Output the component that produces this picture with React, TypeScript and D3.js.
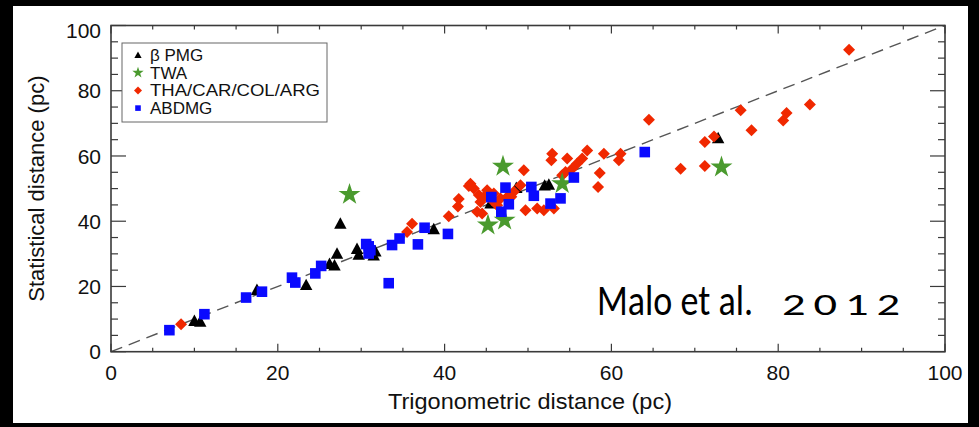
import React from 'react';
import * as d3 from 'd3';

// values: [trigonometric, statistical] in pc
const bpmg = [
  [10.0, 9.5], [10.7, 9.3], [17.5, 19.0], [23.4, 20.5], [26.2, 27.0], [26.8, 26.5],
  [27.1, 30.1], [27.5, 39.3], [29.5, 31.6], [29.7, 29.8], [31.5, 29.6], [31.7, 30.8],
  [38.7, 37.6], [45.5, 45.5], [48.6, 50.3], [52.0, 51.0], [52.5, 51.3], [72.8, 65.5],
];
const twa = [
  [28.6, 48.2], [45.2, 38.8], [47.0, 56.8], [47.2, 40.3], [54.1, 51.5], [73.2, 56.6],
];
const thaCarColArg = [
  [8.4, 8.4], [35.5, 36.7], [36.1, 39.2], [40.5, 41.5], [41.6, 44.5], [41.7, 46.8],
  [42.9, 50.8], [43.1, 51.5], [43.5, 50.0], [44.1, 48.0], [44.7, 47.4], [44.3, 45.9],
  [43.9, 42.9], [44.5, 42.4], [45.1, 49.5], [45.7, 46.4], [45.9, 48.5], [46.3, 44.9],
  [46.7, 47.0], [47.5, 47.4], [48.0, 47.5], [48.3, 49.0], [49.1, 51.0], [49.5, 55.6],
  [49.7, 43.4], [51.1, 43.9], [51.9, 43.4], [53.1, 43.9], [52.9, 60.7], [52.8, 58.7],
  [54.7, 59.2], [57.1, 61.7], [56.5, 59.2], [55.9, 57.7], [55.3, 56.1], [54.5, 55.1],
  [54.1, 54.1], [59.1, 60.7], [58.6, 54.8], [58.4, 50.5], [61.1, 60.7], [60.9, 58.7],
  [64.5, 71.1], [68.3, 56.1], [71.2, 56.9], [71.2, 64.3], [72.3, 66.0], [75.5, 74.0],
  [76.8, 67.9], [80.6, 70.9], [81.0, 73.2], [83.8, 75.8], [88.5, 92.6],
];
const abdmg = [
  [7.0, 6.6], [11.2, 11.5], [16.2, 16.6], [18.1, 18.4], [21.7, 22.7], [22.1, 21.2],
  [24.5, 24.0], [25.2, 26.3], [30.6, 33.0], [30.9, 32.3], [31.1, 31.1], [30.9, 30.1],
  [33.3, 21.0], [33.7, 32.7], [34.6, 34.7], [36.8, 32.9], [37.6, 38.0], [40.4, 36.1],
  [45.6, 47.4], [47.3, 50.3], [47.7, 45.2], [46.8, 42.9], [50.4, 50.5], [50.7, 47.8],
  [52.7, 45.4], [53.9, 47.0], [55.5, 53.4], [64.0, 61.2],
];

const legendNames = ['\u03b2 PMG', 'TWA', 'THA/CAR/COL/ARG', 'ABDMG'];
const majorTicks = [0, 20, 40, 60, 80, 100];
const minorTicks = d3.range(0, 101, 5);

const W = 979;
const H = 427;
const font = '"Liberation Sans", Arial, Helvetica, sans-serif';
const noteFont = 'Carlito, Calibri, Lato, sans-serif';

const x = d3.scaleLinear().domain([0, 100]).range([111, 945]);
const y = d3.scaleLinear().domain([0, 100]).range([351.7, 25.5]);

const triPath = (s) => `M0,${-s}L${s},${s * 0.85}L${-s},${s * 0.85}Z`;
const diamondPath = (s) => `M0,${-s}L${s},0L0,${s}L${-s},0Z`;
const squarePath = (s) => `M${-s},${-s}H${s}V${s}H${-s}Z`;
const starPath = (s) => d3.symbol().type(d3.symbolStar).size(s)();

const series = [
  { data: bpmg, color: '#000000', path: triPath(6.2), leg: triPath(3.6) },
  { data: thaCarColArg, color: '#f02800', path: diamondPath(6), leg: diamondPath(4) },
  { data: twa, color: '#4a9a2e', path: starPath(150), leg: starPath(40) },
  { data: abdmg, color: '#0a0aff', path: squarePath(5.3), leg: squarePath(2.8) },
];
// legend order as in the figure
const legendOrder = [0, 2, 1, 3];

export default function App() {
  const axisColor = '#3a3a3a';
  const yearScale = 1.5;
  return (
    <svg width={W} height={H} style={{ position: 'absolute', left: 0, top: 0, background: '#000' }}>
      <rect x={0} y={0} width={W} height={H} fill="#000" />
      <rect x={13} y={6} width={955} height={417} fill="#fff" />

      {/* 1:1 line */}
      <line x1={x(0)} y1={y(0)} x2={x(100)} y2={y(100)} stroke="#555" strokeWidth={1.4} strokeDasharray="12,7" />

      {/* frame + ticks */}
      <rect x={x(0)} y={y(100)} width={x(100) - x(0)} height={y(0) - y(100)} fill="none" stroke={axisColor} strokeWidth={1.6} />
      {minorTicks.map((t) => {
        const major = t % 20 === 0;
        const tx = major ? 8 : 4;
        const ty = major ? 15 : 7;
        return (
          <g key={t} stroke={axisColor} strokeWidth={1.2}>
            <line x1={x(t)} x2={x(t)} y1={y(0)} y2={y(0) - tx} />
            <line x1={x(t)} x2={x(t)} y1={y(100)} y2={y(100) + tx} />
            <line x1={x(0)} x2={x(0) + ty} y1={y(t)} y2={y(t)} />
            <line x1={x(100)} x2={x(100) - ty} y1={y(t)} y2={y(t)} />
          </g>
        );
      })}
      {majorTicks.map((t) => (
        <g key={'l' + t} fontFamily={font} fontSize={21} fill="#111">
          <text x={x(t)} y={380} textAnchor="middle">{t}</text>
          <text x={101} y={t === 100 ? y(t) + 5 : y(t)} dy="0.36em" textAnchor="end">{t}</text>
        </g>
      ))}
      <text x={(x(0) + x(100)) / 2 + 2} y={409} textAnchor="middle" fontFamily={font} fontSize={22} fill="#111"
        textLength={284} lengthAdjust="spacingAndGlyphs">
        Trigonometric distance (pc)
      </text>
      <text
        transform={`translate(44,${(y(0) + y(100)) / 2}) rotate(-90)`}
        textAnchor="middle"
        fontFamily={font}
        fontSize={22}
        fill="#111"
      >
        Statistical distance (pc)
      </text>

      {/* points */}
      {series.map((s, i) => (
        <g key={i} fill={s.color}>
          {s.data.map((d, j) => (
            <path key={j} d={s.path} transform={`translate(${x(d[0])},${y(d[1])})`} />
          ))}
        </g>
      ))}

      {/* legend */}
      <rect x={122} y={43} width={205} height={79} fill="#fff" stroke="#666" strokeWidth={1} />
      {legendOrder.map((si, k) => (
        <g key={k} transform={`translate(0,${55 + k * 17.7})`}>
          <path d={series[si].leg} fill={series[si].color} transform="translate(138,0)" />
          <text x={150} y={0} dy="0.35em" fontFamily={font} fontSize={17} fill="#111"
            textLength={k === 2 ? 170 : undefined} lengthAdjust="spacingAndGlyphs">
            {legendNames[k]}
          </text>
        </g>
      ))}

      {/* annotation */}
      <text x={597} y={315} fontFamily={noteFont} fontSize={43} fill="#000" textLength={156} lengthAdjust="spacingAndGlyphs">
        Malo et al.
      </text>
      <text transform={`translate(782,315) scale(${yearScale},1)`} fontFamily={noteFont} fontSize={31} fill="#000"
        textLength={118 / yearScale} lengthAdjust="spacing">
        2012
      </text>
    </svg>
  );
}
